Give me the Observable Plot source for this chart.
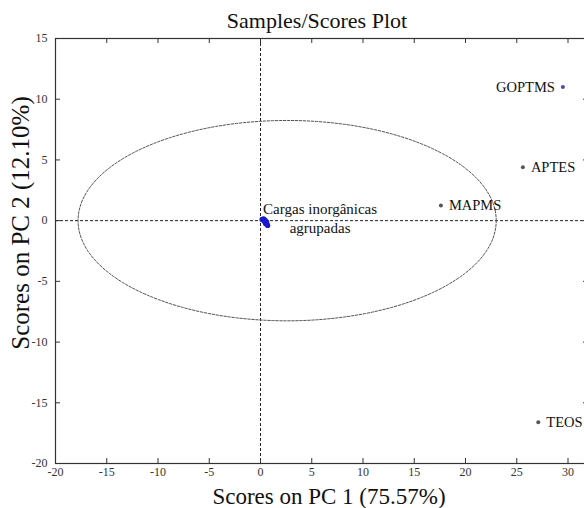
<!DOCTYPE html>
<html>
<head>
<meta charset="utf-8">
<script src="https://cdn.jsdelivr.net/npm/d3@7"></script>
<script src="https://cdn.jsdelivr.net/npm/@observablehq/plot@0.6"></script>
<style>
  html, body { margin: 0; padding: 0; background: #fff; overflow: hidden; }
  svg { max-width: none !important; display: block; }
</style>
</head>
<body>
<div id="chart"></div>
<script>
// ---- data ----
const sampleNames = ["GOPTMS", "APTES", "MAPMS", "TEOS"];
const samplePC1 = [29.5, 25.6, 17.6, 27.1];
const samplePC2 = [11.0, 4.4, 1.25, -16.6];

// grouped inorganic fillers (cluster near origin)
const clusterPC1 = [0.15, 0.3, 0.45, 0.6, 0.5, 0.7, 0.35, 0.55, 0.65];
const clusterPC2 = [0.1, 0.15, 0.05, -0.1, -0.25, -0.4, -0.05, -0.2, -0.3];
const clusterLabel = "Cargas inorgânicas\nagrupadas";

// 95% confidence ellipse parameters
const ellipseCenter = [2.6, 0];
const ellipseRadii = [20.4, 8.25];

const xTicks = [-20, -15, -10, -5, 0, 5, 10, 15, 20, 25, 30];
const yTicks = [15, 10, 5, 0, -5, -10, -15, -20];
const xDomain = [-20, 32];
const yDomain = [-20, 15];

const title = "Samples/Scores Plot";
const xLabel = "Scores on PC 1 (75.57%)";
const yLabel = "Scores on PC 2 (12.10%)";

// ---- build tables ----
const samples = sampleNames.map((name, i) => ({name, x: samplePC1[i], y: samplePC2[i]}));
const cluster = clusterPC1.map((x, i) => ({x, y: clusterPC2[i]}));
const ellipse = d3.range(0, 361, 2).map(a => {
  const t = a * Math.PI / 180;
  return {x: ellipseCenter[0] + ellipseRadii[0] * Math.cos(t), y: ellipseCenter[1] + ellipseRadii[1] * Math.sin(t)};
});

const W = 600, H = 508;
const mL = 55, mR = 12, mT = 38, mB = 45;
const plotW = W - mL - mR, plotH = H - mT - mB;
const tickLen = 5;
const serif = "Liberation Serif, Times New Roman, serif";
const fmt = d => String(d);

const leftSamples = samples.filter(d => d.name === "GOPTMS");
const rightSamples = samples.filter(d => d.name !== "GOPTMS");

const chart = Plot.plot({
  width: W,
  height: H,
  marginLeft: mL,
  marginRight: mR,
  marginTop: mT,
  marginBottom: mB,
  style: {fontFamily: serif, fontSize: "12px", background: "#fff", color: "#222", maxWidth: "none"},
  x: {domain: xDomain},
  y: {domain: yDomain},
  marks: [
    // zero lines
    Plot.ruleX([0], {stroke: "#222", strokeWidth: 1, strokeDasharray: "3,2"}),
    Plot.ruleY([0], {stroke: "#222", strokeWidth: 1, strokeDasharray: "3,2"}),
    // ellipse
    Plot.line(ellipse, {x: "x", y: "y", stroke: "#555", strokeWidth: 1, strokeDasharray: "2.5,1.5"}),
    // frame
    Plot.frame({stroke: "#333", strokeWidth: 1.2}),
    // inward tick marks
    Plot.ruleX(xTicks.filter(d => d > xDomain[0]), {x: d => d, insetTop: plotH - tickLen, stroke: "#333"}),
    Plot.ruleX(xTicks.filter(d => d > xDomain[0]), {x: d => d, insetBottom: plotH - tickLen, stroke: "#333"}),
    Plot.ruleY(yTicks.filter(d => d > yDomain[0] && d < yDomain[1]), {y: d => d, insetRight: plotW - tickLen, stroke: "#333"}),
    Plot.ruleY(yTicks.filter(d => d > yDomain[0] && d < yDomain[1]), {y: d => d, insetLeft: plotW - tickLen, stroke: "#333"}),
    // axes labels
    Plot.axisX({anchor: "bottom", ticks: xTicks, tickFormat: fmt, tickSize: 0, tickPadding: 4, label: null, fontSize: 12, fill: "#333"}),
    Plot.axisY({anchor: "left", ticks: yTicks, tickFormat: fmt, tickSize: 0, tickPadding: 8, label: null, fontSize: 12, fill: "#333"}),
    // sample points
    Plot.dot(samples, {x: "x", y: "y", r: 2, fill: d => d.name === "GOPTMS" ? "#4a4aa8" : "#555", stroke: "none"}),
    Plot.dot(cluster, {x: "x", y: "y", r: 2.6, fill: "#1a1acc", stroke: "none"}),
    // sample labels
    Plot.text(leftSamples, {x: "x", y: "y", text: "name", textAnchor: "end", dx: -8, fontSize: 14.5, fill: "#111"}),
    Plot.text(rightSamples, {x: "x", y: "y", text: "name", textAnchor: "start", dx: 8, fontSize: 14.5, fill: "#111"}),
    Plot.text([clusterLabel], {x: () => clusterPC1[2], y: () => 0, text: d => d, textAnchor: "middle", dx: 55, dy: -3, lineHeight: 1.25, fontSize: 15, fill: "#111"}),
    // title and axis titles
    Plot.text([title], {frameAnchor: "top", text: d => d, dx: -5, dy: -11, lineAnchor: "bottom", fontSize: 22, fill: "#111"}),
    Plot.text([xLabel], {frameAnchor: "bottom", text: d => d, textAnchor: "middle", dx: 7, dy: 40, fontSize: 23, fill: "#111"}),
    Plot.text([yLabel], {frameAnchor: "left", text: d => d, textAnchor: "middle", lineAnchor: "middle", rotate: -90, dx: -35, dy: -28, fontSize: 25, fill: "#111"})
  ]
});

document.getElementById("chart").appendChild(chart);
</script>
</body>
</html>
